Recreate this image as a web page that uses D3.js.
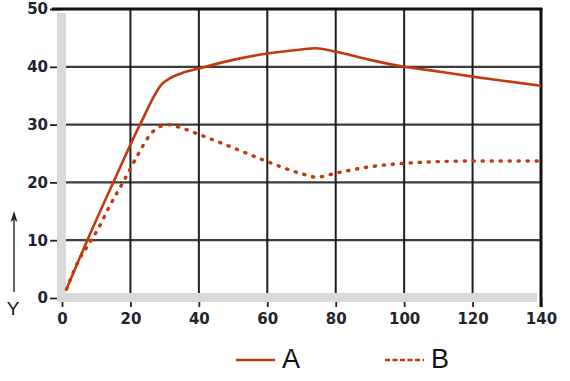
<!DOCTYPE html>
<html>
<head>
<meta charset="utf-8">
<script src="https://cdn.jsdelivr.net/npm/d3@7/dist/d3.min.js"></script>
<style>
  html, body { margin: 0; padding: 0; background: #fff; }
  svg { display: block; }
</style>
</head>
<body>
<svg id="chart" width="570" height="381"></svg>
<script>
// ---- data ----
const xTicks = [0, 20, 40, 60, 80, 100, 120, 140];
const yTicks = [0, 10, 20, 30, 40, 50];
const seriesNames = ["A", "B"];
const seriesAx = [1.3, 7.4, 15, 22.8, 29.5, 31.5, 35, 40, 50, 60, 70, 74, 80, 90, 100, 110, 120, 130, 140];
const seriesAy = [1.5, 10, 20, 30, 37.2, 38.0, 38.9, 39.7, 41.2, 42.3, 43.0, 43.2, 42.6, 41.2, 40.0, 39.2, 38.3, 37.5, 36.7];
const seriesBx = [1.3, 4.8, 7.7, 10.6, 14, 18.2, 22, 26.6, 31, 34, 40, 50, 60, 70, 74.5, 80, 90, 100, 110, 120, 130, 140];
const seriesBy = [1.5, 6.4, 9.2, 12.0, 16.0, 20.4, 24.6, 28.8, 30.0, 29.6, 28.3, 26.0, 23.6, 21.5, 20.9, 21.6, 22.7, 23.3, 23.6, 23.7, 23.7, 23.7];

(function () {
// ---- layout ----
const svg = d3.select("#chart");
const mLeft = 62, mRight = 541, mTop = 9, mBottom = 298;
const x = d3.scaleLinear().domain([0, 140]).range([mLeft, mRight]);
const y = d3.scaleLinear().domain([0, 50]).range([mBottom, mTop]);
const red = "#c13a0e";
const font = "'DejaVu Sans', Arial, sans-serif";

// horizontal grid lines
svg.append("g").selectAll("line").data(yTicks.filter(d => d > 0 && d < 50)).join("line")
  .attr("x1", x(0)).attr("x2", x(140))
  .attr("y1", d => y(d)).attr("y2", d => y(d))
  .attr("stroke", "#3c3c3c").attr("stroke-width", 2.2);

// vertical grid lines
svg.append("g").selectAll("line").data(xTicks.filter(d => d > 0 && d < 140)).join("line")
  .attr("x1", d => x(d)).attr("x2", d => x(d))
  .attr("y1", y(50)).attr("y2", y(0))
  .attr("stroke", "#1e1e1e").attr("stroke-width", 2);

// axes (ticks + labels)
const xAxis = svg.append("g").attr("transform", `translate(0,${mBottom})`)
  .call(d3.axisBottom(x).tickValues(xTicks).tickSize(9).tickPadding(6));
const yAxis = svg.append("g").attr("transform", `translate(${mLeft},0)`)
  .call(d3.axisLeft(y).tickValues(yTicks).tickSize(12).tickPadding(2));
[xAxis, yAxis].forEach(g => {
  g.select(".domain").remove();
  g.selectAll(".tick line").attr("stroke", "#222").attr("stroke-width", 1.8);
  g.selectAll(".tick text").attr("fill", "#23232e").style("font-family", font)
    .style("font-size", "15px").style("font-weight", "bold");
});

// grey bands
svg.append("rect").attr("x", 57).attr("y", 13).attr("width", 9).attr("height", 289).attr("fill", "#d9d9d9");
svg.append("rect").attr("x", 57).attr("y", 293).attr("width", 480).attr("height", 9).attr("fill", "#d9d9d9");

// top and right borders
svg.append("line").attr("x1", 52).attr("x2", x(140) + 1.5).attr("y1", y(50)).attr("y2", y(50))
  .attr("stroke", "#111").attr("stroke-width", 3);
svg.append("line").attr("x1", x(140)).attr("x2", x(140)).attr("y1", y(50)).attr("y2", 307)
  .attr("stroke", "#111").attr("stroke-width", 3);

// series
const line = d3.line().x(d => x(d[0])).y(d => y(d[1])).curve(d3.curveMonotoneX);
const dataA = seriesAx.map((v, i) => [v, seriesAy[i]]);
const dataB = seriesBx.map((v, i) => [v, seriesBy[i]]);
svg.append("path").datum(dataB).attr("d", line)
  .attr("fill", "none").attr("stroke", red).attr("stroke-width", 3.4)
  .attr("stroke-linecap", "round").attr("stroke-dasharray", "1.2,7.8");
svg.append("path").datum(dataA).attr("d", line)
  .attr("fill", "none").attr("stroke", red).attr("stroke-width", 2.6)
  .attr("stroke-linejoin", "round");

// Y label with arrow
svg.append("line").attr("x1", 14).attr("x2", 14).attr("y1", 292).attr("y2", 220)
  .attr("stroke", "#222").attr("stroke-width", 1.4);
svg.append("path").attr("d", "M14,211 L10.5,222 L14,219.5 L17.5,222 Z").attr("fill", "#222");
svg.append("text").attr("x", 13).attr("y", 315).attr("text-anchor", "middle")
  .style("font-family", "'Liberation Sans', Arial, sans-serif").style("font-size", "19px").attr("fill", "#111").text("Y");

// legend
const legend = svg.append("g");
const lx = [236, 385];
seriesNames.forEach((name, i) => {
  legend.append("line").attr("x1", lx[i]).attr("x2", lx[i] + 39).attr("y1", 360).attr("y2", 360)
    .attr("stroke", red).attr("stroke-width", 2.6)
    .attr("stroke-dasharray", i === 1 ? "5,2.5" : null);
  legend.append("text").attr("x", lx[i] + 46).attr("y", 368)
    .style("font-family", "'Liberation Sans', Arial, sans-serif").style("font-size", "27px")
    .attr("fill", "#111").text(name);
});
})();
</script>
</body>
</html>
